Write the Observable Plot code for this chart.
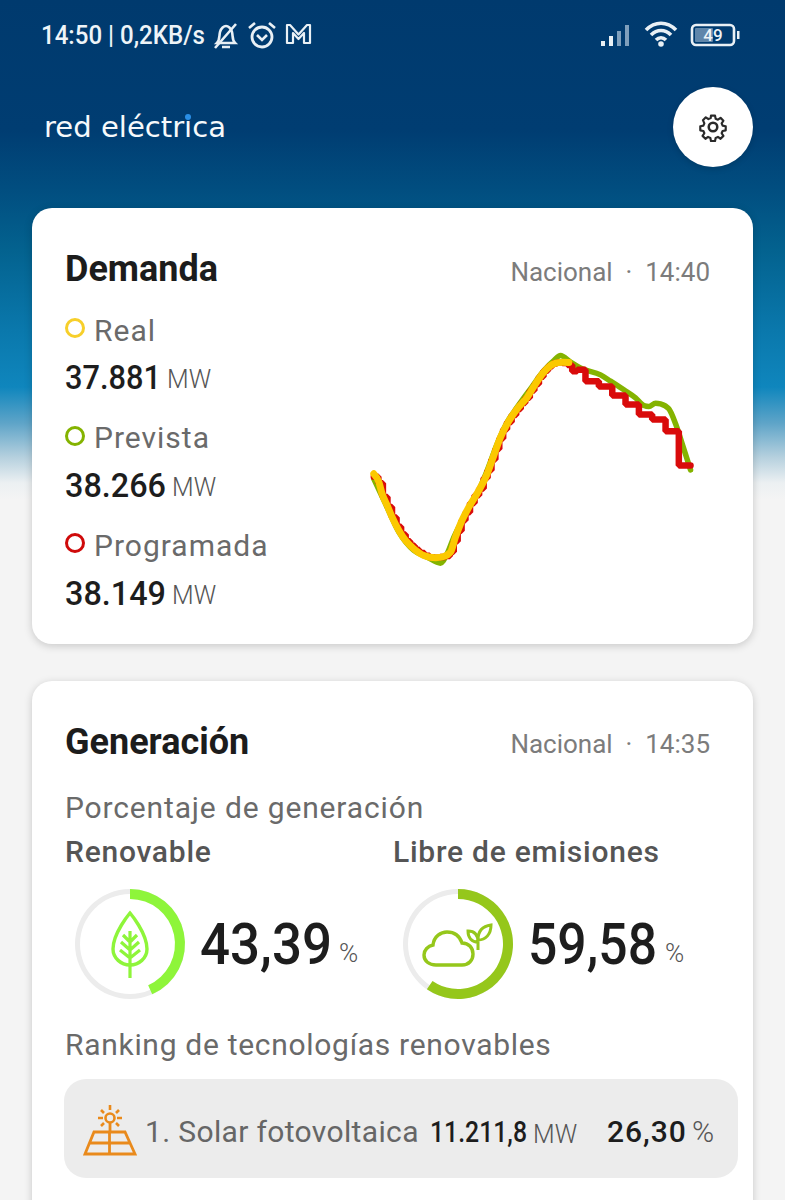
<!DOCTYPE html>
<html lang="es"><head><meta charset="utf-8">
<script src="https://cdn.jsdelivr.net/npm/d3@7"></script>
<script src="https://cdn.jsdelivr.net/npm/@observablehq/plot@0.6"></script>
<style>
html,body{margin:0;padding:0;background:#f4f4f4}
#page{position:relative;width:785px;height:1200px;overflow:hidden;font-family:Roboto,sans-serif;color:#1d1d1d;
background:linear-gradient(180deg,#003a6e 0,#003d72 130px,#014e80 190px,#03628f 250px,#0a78ac 330px,#0f86bd 387px,#5ea4c8 423px,#b5d0de 457px,#ecf0f2 483px,#f4f4f4 500px)}
.card{position:absolute;left:32px;width:721px;background:#fff;border-radius:20px;box-shadow:0 2px 8px rgba(0,0,0,.18)}
.t{position:absolute;white-space:pre;transform:translateY(-50%);transform-origin:left center;line-height:1}
.r{transform:translate(-100%,-50%)}
.ico{position:absolute;overflow:visible}
#chart,.gauge{position:absolute}
#chart svg,.gauge svg{display:block;background:transparent;overflow:visible}
</style></head><body><div id="page"></div>
<script>
// ---- Text and figures
const statusText = "14:50 | 0,2KB/s";
const batteryLevel = "49";
const brandName = "red eléctrica";
const scopeName = "Nacional";
const demandTitle = "Demanda";
const demandTime = "14:40";
const seriesNames = ["Real", "Prevista", "Programada"];
const seriesValues = ["37.881", "38.266", "38.149"];
const seriesColors = ["#fbc900", "#84b300", "#d90b0b"];
const legendColors = ["#f7cf2a", "#84b300", "#cf0a0a"];
const generationTitle = "Generación";
const generationTime = "14:35";
const gaugeNames = ["Renovable", "Libre de emisiones"];
const gaugeValues = [43.39, 59.58];
const gaugeColors = ["#8ef53a", "#95c71b"];
const sectionLabel = "Porcentaje de generación";
const rankingLabel = "Ranking de tecnologías renovables";
const rankName = "1. Solar fotovoltaica", rankMW = "11.211,8", rankPct = "26,30";

// ---- Demand curves: hours from the left edge of the curve, MW
const realHours = [0.1,0.49,0.74,1.13,1.51,2.03,2.54,3.18,3.95,4.85,5.49,6.0,6.38,6.77,7.41,8.18,8.82,9.33,9.85,10.36,11.13,11.9,12.54,13.18,13.95,14.59,15.1];
const realMW = [29421,28788,27901,27014,26128,25115,24355,23721,23215,23038,23138,23468,24608,25621,26888,28154,29421,30814,32207,33220,34360,35247,36260,37147,37780,37906,37881];
const forecastHours = [0.1,1.0,2.03,3.18,4.21,5.23,5.74,6.26,7.03,8.05,8.82,9.59,10.36,11.13,12.15,13.18,13.95,14.46,15.23,16.13,17.54,18.31,19.33,20.23,20.87,21.26,21.77,22.15,22.79,23.31,23.82,24.46];
const forecastMW = [29041,27141,24988,23595,23088,22632,23342,24608,26128,27901,29674,31701,33347,34487,35880,37273,38033,38413,37906,37400,36944,36463,35804,35196,34614,34538,34791,34740,34360,33220,31701,29725];
const plannedHours = [0.1,0.45,0.8,1.15,1.5,1.85,2.2,2.55,2.9,3.25,3.6,4.0,4.4,4.8,5.2,5.6,5.95,6.25,6.55,6.85,7.15,7.5,7.85,8.2,8.55,8.85,9.15,9.45,9.75,10.05,10.35,10.7,11.05,11.4,11.75,12.1,12.45,12.8,13.15,13.5,13.85,14.2,14.6,15.0,15.36,15.74,16.38,17.41,18.44,19.46,20.49,21.51,22.54,23.56,24.46];
const plannedMW = [29200,28700,27650,26900,26100,25400,24800,24300,23950,23650,23400,23200,23080,23040,23090,23180,23500,24300,25100,25900,26500,27200,27800,28300,29100,29700,30500,31300,32100,32800,33350,33900,34350,34800,35200,35750,36250,36800,37250,37600,37800,37900,37850,37700,37223,37324,36463,36057,35373,34689,33930,33550,32663,30054,30054];

const page = document.getElementById("page");
function text(s, x, y, size, color, opt = {}) {
  const e = document.createElement("div");
  e.className = "t" + (opt.right ? " r" : "");
  e.textContent = s;
  e.style.cssText = `left:${x}px;top:${y}px;font-size:${size}px;color:${color};font-weight:${opt.w || 400};letter-spacing:${opt.ls || 0}px;` + (opt.font ? `font-family:${opt.font};` : "");
  page.appendChild(e);
  if (opt.fit) { // squeeze horizontally to the reference's narrower type
    const k = opt.fit / e.getBoundingClientRect().width;
    e.style.transform = `translateY(-50%) scaleX(${k})`;
  }
  return e;
}
function box(cls, css) { const e = document.createElement("div"); e.className = cls; e.style.cssText = css; page.appendChild(e); return e; }
function icon(x, y, w, h, vb, inner) {
  const d = document.createElement("div");
  d.innerHTML = `<svg class="ico" style="left:${x}px;top:${y}px" width="${w}" height="${h}" viewBox="${vb}" fill="none">${inner}</svg>`;
  page.appendChild(d);
}

// ---- Cards
box("card", "top:208px;height:436px");
box("card", "top:681px;height:560px");
box("", "position:absolute;left:64px;top:1079px;width:674px;height:99px;background:#ececec;border-radius:22px");

// ---- Status bar
text(statusText, 41, 35, 25, "#eef4f8", {w: 500, fit: 164});
const wh = "#e9f0f5";
icon(212, 20, 27, 32, "0 0 27 32", `<path d="M5 23c3-3 2-7 3-11 1-4 4-6 6-6s5 2 6 6c1 4 0 8 3 11H5z" stroke="${wh}" stroke-width="2.6"/><path d="M10 27h8M3 28 24 4" stroke="${wh}" stroke-width="2.6"/>`);
icon(247, 20, 30, 30, "0 0 30 30", `<circle cx="15" cy="17" r="10" stroke="${wh}" stroke-width="2.8"/><path d="M10 15l5 5 5-5M2 8l6-5M28 8l-6-5" stroke="${wh}" stroke-width="2.6"/>`);
icon(285, 23, 27, 22, "0 0 27 22", `<path d="M2 2v18h6V10l5.500 6L19 10v10h6V2h-3l-8.500 9.500L5 2z" stroke="${wh}" stroke-width="2.2" stroke-linejoin="round"/>`);
icon(600, 23, 36, 24, "0 0 36 24", `<rect x="1" y="18" width="4" height="5" fill="${wh}"/><rect x="9" y="13" width="4" height="10" fill="${wh}"/><rect x="17" y="8" width="4" height="15" fill="#7f9fbc"/><rect x="25" y="2" width="4" height="21" fill="#7f9fbc"/>`);
icon(644, 21, 34, 26, "0 0 34 26", `<path d="M2 9c9-9 21-9 30 0M7 14c6-6 14-6 20 0M12 19c3-3 7-3 10 0" stroke="${wh}" stroke-width="3.6"/><circle cx="17" cy="23" r="2.8" fill="${wh}"/>`);
icon(690, 23, 50, 24, "0 0 50 24", `<rect x="2" y="2" width="42" height="20" rx="4" stroke="${wh}" stroke-width="2.6"/><rect x="5" y="5" width="18" height="14" rx="1" fill="#5f86aa"/><rect x="47" y="8" width="2.5" height="8" fill="${wh}"/>`);
text(batteryLevel, 713, 35, 17, "#eef4f8", {w: 500}).style.transform = "translate(-50%,-50%)";

// ---- Header
const brand = text(brandName, 44, 128, 28, "#f6f9fb", {font: "'DejaVu Sans'", fit: 182});
{ // the blue accent sits on the dot of the second "i"
  const rng = document.createRange();
  rng.setStart(brand.firstChild, 10); rng.setEnd(brand.firstChild, 11);
  const rc = rng.getBoundingClientRect();
  box("", `position:absolute;left:${(rc.left + rc.right) / 2 - 3}px;top:114px;width:6px;height:6px;border-radius:50%;background:#2a8fe6`);
}
box("", "position:absolute;left:673px;top:87px;width:80px;height:80px;border-radius:50%;background:#fff;box-shadow:0 2px 6px rgba(0,0,0,.15)");
icon(697, 111, 32, 32, "0 0 24 24", `<circle cx="12" cy="12" r="3.2" stroke="#2a2a2a" stroke-width="1.9"/><path d="M10.3 2.5h3.4l.5 2.6 1.9.8 2.2-1.5 2.4 2.4-1.5 2.2.8 1.9 2.6.5v3.4l-2.6.5-.8 1.9 1.5 2.2-2.4 2.4-2.2-1.5-1.9.8-.5 2.6h-3.4l-.5-2.6-1.9-.8-2.2 1.5-2.4-2.4 1.5-2.2-.8-1.9-2.6-.5v-3.4l2.6-.5.8-1.9L3.6 6.3 6 3.9l2.2 1.5 1.9-.8z" stroke="#2a2a2a" stroke-width="1.8" stroke-linejoin="round" transform="translate(1.2 1.2) scale(.9)"/>`);

// ---- Demanda card text
const grey = "#6a6a6a";
text(demandTitle, 65, 269, 36, "#1c1c1c", {w: 700});
text(`${scopeName}  ·  ${demandTime}`, 710, 272, 26, "#7c7c7c", {right: true});
const rows = [[328, 331, 377], [436, 438, 485], [543, 546, 593]];
const valueWidths = [96, 101, 101];
seriesNames.forEach((n, i) => {
  const [cy, ty, vy] = rows[i];
  box("", `position:absolute;left:65px;top:${cy - 10}px;width:14px;height:14px;border:3px solid ${legendColors[i]};border-radius:50%`);
  text(n, 94, ty, 30, grey, {ls: 1});
  text(seriesValues[i], 65, vy, 34, "#1d1d1d", {w: 500, fit: valueWidths[i]});
  text("MW", 65 + valueWidths[i] + 6, vy + 2, 25, "#555", {w: 300});
});

// ---- Demand chart
const rowsOf = (hs, ms) => hs.map((h, i) => ({h, mw: ms[i]}));
const chart = Plot.plot({
  width: 340, height: 240, margin: 0,
  style: {background: "transparent", overflow: "visible"},
  x: {domain: [0, 26.15], range: [0, 340], axis: null},
  y: {domain: [21313, 39553], range: [240, 0], axis: null},
  marks: [
    Plot.line(rowsOf(forecastHours, forecastMW), {x: "h", y: "mw", stroke: seriesColors[1], strokeWidth: 5.5, curve: "monotone-x"}),
    Plot.line(rowsOf(plannedHours, plannedMW), {x: "h", y: "mw", stroke: seriesColors[2], strokeWidth: 6.5, curve: "step-after", strokeLinejoin: "miter"}),
    Plot.line(rowsOf(realHours, realMW), {x: "h", y: "mw", stroke: seriesColors[0], strokeWidth: 7, curve: "monotone-x", strokeLinecap: "round"})
  ]
});
const cd = box("", "position:absolute;left:372px;top:340px;width:340px;height:240px");
cd.id = "chart"; cd.appendChild(chart);

// ---- Generación card text
text(generationTitle, 65, 742, 36, "#1c1c1c", {w: 700});
text(`${scopeName}  ·  ${generationTime}`, 710, 744, 26, "#7c7c7c", {right: true});
text(sectionLabel, 65, 808, 30, grey, {ls: .85});
text(gaugeNames[0], 65, 852, 30, "#555", {w: 500, ls: .75});
text(gaugeNames[1], 393, 852, 30, "#555", {w: 500, ls: .75});

// ---- Gauges
function arcPath(r, a) {
  return d3.arc()({innerRadius: r.inner, outerRadius: r.outer, startAngle: 0, endAngle: a});
}
function gauge(value, color, cx, cy) {
  const size = 120;
  const p = Plot.plot({
    width: size, height: size, margin: 0,
    style: {background: "transparent"},
    x: {domain: [0, 100], range: [0, 2 * Math.PI], axis: null},
    marks: [
      Plot.dot([100, value], {x: d => d, render(index, scales, values) {
        const g = d3.create("svg:g").attr("transform", `translate(${size / 2},${size / 2})`);
        g.append("path").attr("fill", "#ececec").attr("d", arcPath({inner: 50, outer: 55}, values.x[0]));
        g.append("path").attr("fill", color).attr("d", arcPath({inner: 45, outer: 55}, values.x[1]));
        return g.node();
      }})
    ]
  });
  const d = box("gauge", `left:${cx - size / 2}px;top:${cy - size / 2}px;width:${size}px;height:${size}px`);
  d.appendChild(p);
}
gauge(gaugeValues[0], gaugeColors[0], 130, 944);
gauge(gaugeValues[1], gaugeColors[1], 458, 944);
const fmt = v => v.toFixed(2).replace(".", ",");
text(fmt(gaugeValues[0]), 200, 944, 58, "#1d1d1d", {w: 500, fit: 132});
text("%", 339, 953, 26, "#555", {w: 300});
text(fmt(gaugeValues[1]), 528, 944, 58, "#1d1d1d", {w: 500, fit: 129});
text("%", 665, 953, 26, "#555", {w: 300});

// ---- Icons in the gauges
const lf = gaugeColors[0], cl = gaugeColors[1];
icon(106, 911, 48, 68, "0 0 48 68", `<path d="M24 2C24 2 7 22 7 38c0 9 8 16 17 16s17-7 17-16C41 22 24 2 24 2z" stroke="${lf}" stroke-width="3.4"/><path d="M24 20v47M24 31l-7-7M24 31l7-7M24 39l-9-8M24 39l9-8M24 47l-10-8M24 47l10-8" stroke="${lf}" stroke-width="3.2"/>`);
icon(422, 922, 74, 46, "0 0 74 46", `<path d="M14 43c-7 0-12-4-12-10 0-5 4-9 9-10 1-9 8-13 14-13 8 0 13 5 15 11 7 0 11 5 11 11 0 6-4 11-11 11H14z" stroke="${cl}" stroke-width="3.4"/><path d="M56 28V12M56 20c-6 0-10-4-10-11 7 0 10 4 10 11zM56 18c0-9 5-14 13-15 0 9-5 15-13 15z" stroke="${cl}" stroke-width="3"/>`);

// ---- Ranking
text(rankingLabel, 65, 1045, 30, grey, {ls: .7});
const or = "#e98a1c";
icon(84, 1104, 52, 52, "0 0 52 52", `<path d="M1 50 10 28h31l10 22H1zM6 39h40M25.500 28v22M26 18v10" stroke="${or}" stroke-width="2.8"/><circle cx="26" cy="14" r="4.500" stroke="${or}" stroke-width="2.6"/><path d="M26 1v5M14 14h5M33 14h5M17 6l3 3M35 6l-3 3M17 22l3-3M35 22l-3-3" stroke="${or}" stroke-width="2.6"/>`);
text(rankName, 145, 1132, 30, "#666", {ls: .35});
text(rankMW, 430, 1132, 29, "#1d1d1d", {w: 500, fit: 97});
text("MW", 533, 1134, 25, "#555", {w: 300});
text(rankPct, 607, 1132, 30, "#1d1d1d", {w: 500, ls: 1});
text("%", 692, 1132, 30, "#555", {w: 300});
</script></body></html>
